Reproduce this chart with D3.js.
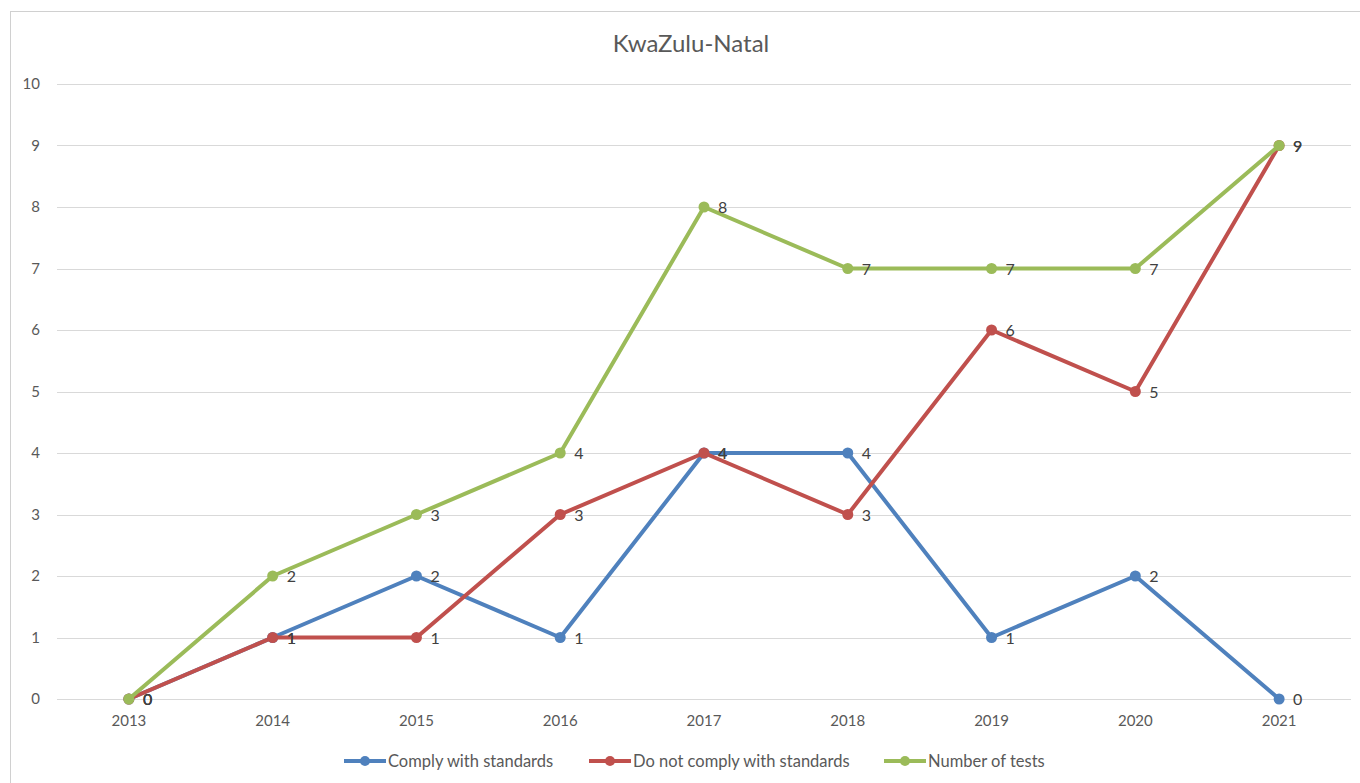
<!DOCTYPE html>
<html>
<head>
<meta charset="utf-8">
<script src="https://cdn.jsdelivr.net/npm/d3@7"></script>
<style>
  body { margin: 0; background: #fff; }
  text { font-family: Lato, "Liberation Sans", sans-serif; }
</style>
</head>
<body>
<script>
// data
const years = ['2013', '2014', '2015', '2016', '2017', '2018', '2019', '2020', '2021'];
const comply = [0, 1, 2, 1, 4, 4, 1, 2, 0];
const notComply = [0, 1, 1, 3, 4, 3, 6, 5, 9];
const tests = [0, 2, 3, 4, 8, 7, 7, 7, 9];
const yTicks = [0, 1, 2, 3, 4, 5, 6, 7, 8, 9, 10];

const series = [
  { name: 'Comply with standards', values: comply, color: '#4F81BD' },
  { name: 'Do not comply with standards', values: notComply, color: '#C0504D' },
  { name: 'Number of tests', values: tests, color: '#9BBB59' }
];

const W = 1360;
const H = 783;
const margin = { top: 84, right: 9, bottom: 84, left: 57 };
const width = W - margin.left - margin.right;
const height = H - margin.top - margin.bottom;

const svg = d3.select('body')
  .append('svg')
    .attr('width', W)
    .attr('height', H);

// chart border
svg.append('rect')
  .attr('x', 10.5)
  .attr('y', 11.5)
  .attr('width', W + 20)
  .attr('height', H + 20)
  .attr('fill', 'none')
  .attr('stroke', '#D0D0D0');

svg.append('text')
  .attr('x', 691)
  .attr('y', 52)
  .attr('text-anchor', 'middle')
  .attr('fill', '#595959')
  .style('font-size', '24px')
  .text('KwaZulu-Natal');

const g = svg.append('g')
  .attr('transform', `translate(${margin.left}, ${margin.top})`);

const x = d3.scaleBand().domain(years).range([0, width]);
const y = d3.scaleLinear().domain([0, 10]).range([height, 0]);
const cx = d => x(d) + x.bandwidth() / 2;

// gridlines
g.append('g')
  .selectAll('line')
  .data(yTicks)
  .join('line')
    .attr('x1', 0)
    .attr('x2', width)
    .attr('y1', d => Math.round(y(d)) + 0.5)
    .attr('y2', d => Math.round(y(d)) + 0.5)
    .attr('stroke', '#D9D9D9')
    .attr('stroke-width', 1);

const yAxis = d3.axisLeft(y).tickValues(yTicks).tickSize(0).tickPadding(17);
g.append('g')
  .attr('class', 'axis-y')
  .call(yAxis)
  .call(s => s.select('.domain').remove())
  .call(s => s.selectAll('text')
    .attr('fill', '#595959')
    .style('font-size', '15px')
    .style('font-family', 'Lato, "Liberation Sans", sans-serif'));

const xAxis = d3.axisBottom(x).tickSize(0).tickPadding(16);
g.append('g')
  .attr('class', 'axis-x')
  .attr('transform', `translate(0, ${height})`)
  .call(xAxis)
  .call(s => s.select('.domain').remove())
  .call(s => s.selectAll('text')
    .attr('fill', '#595959')
    .style('font-size', '15px')
    .style('font-family', 'Lato, "Liberation Sans", sans-serif'));

const line = d3.line()
  .x((d, i) => cx(years[i]))
  .y(d => y(d));

series.forEach(s => {
  g.append('path')
    .datum(s.values)
    .attr('d', line)
    .attr('fill', 'none')
    .attr('stroke', s.color)
    .attr('stroke-width', 4)
    .attr('stroke-linejoin', 'round');

  g.append('g')
    .selectAll('circle')
    .data(s.values)
    .join('circle')
      .attr('cx', (d, i) => cx(years[i]))
      .attr('cy', d => y(d))
      .attr('r', 5.5)
      .attr('fill', s.color);
});

// data labels
series.forEach(s => {
  g.append('g')
    .selectAll('text')
    .data(s.values)
    .join('text')
      .attr('x', (d, i) => cx(years[i]) + 14)
      .attr('y', d => y(d) + 6)
      .attr('fill', '#404040')
      .style('font-size', '16px')
      .text(d => d);
});

// legend
const legendX = [344, 589, 884];
const legend = svg.append('g')
  .selectAll('g')
  .data(series)
  .join('g')
    .attr('transform', (d, i) => `translate(${legendX[i]}, 761)`);

legend.append('line')
  .attr('x1', 0)
  .attr('x2', 42)
  .attr('stroke', d => d.color)
  .attr('stroke-width', 4);

legend.append('circle')
  .attr('cx', 21)
  .attr('r', 5)
  .attr('fill', d => d.color);

legend.append('text')
  .attr('x', 44)
  .attr('y', 6)
  .attr('fill', '#595959')
  .style('font-size', '16.5px')
  .text(d => d.name);
</script>
</body>
</html>
